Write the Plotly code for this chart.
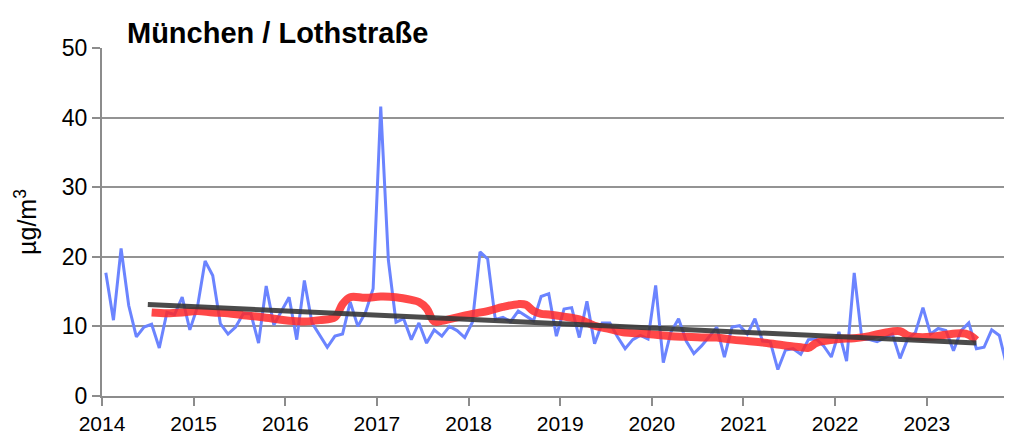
import plotly.graph_objects as go

# Monthly values Jan 2014 .. Nov 2023 (µg/m³)
monthly_values = [
    17.7, 10.9, 21.2, 13.0, 8.5, 9.9, 10.3, 6.9, 12.0, 11.7, 14.2, 9.5,
    12.8, 19.4, 17.3, 10.4, 8.9, 9.9, 11.8, 11.8, 7.6, 15.8, 10.2, 12.3,
    14.2, 8.1, 16.6, 10.5, 8.8, 7.0, 8.6, 8.9, 13.5, 10.0, 12.0, 15.4,
    41.6, 19.5, 10.6, 11.1, 8.1, 10.5, 7.6, 9.5, 8.6, 10.0, 9.4, 8.4,
    10.6, 20.7, 19.7, 11.0, 11.3, 10.7, 12.2, 11.5, 10.8, 14.3, 14.7, 8.6,
    12.5, 12.7, 8.4, 13.6, 7.5, 10.5, 10.5, 8.5, 6.8, 8.1, 8.7, 8.2,
    15.9, 4.8, 9.2, 11.1, 7.9, 6.1, 7.2, 8.5, 9.9, 5.6, 9.9, 10.1,
    8.9, 11.1, 7.9, 7.8, 3.8, 6.6, 6.8, 6.0, 8.1, 8.2, 7.2, 5.6,
    9.2, 5.0, 17.7, 8.2, 8.1, 7.8, 8.4, 8.9, 5.4, 8.2, 9.1, 12.7,
    8.9, 9.7, 9.4, 6.5, 9.4, 10.5, 6.8, 7.0, 9.5, 8.7, 4.2,
]
start_year = 2014

# Moving average at month indices
avg_months = [6, 8, 10, 12, 14, 16, 18, 20, 22, 24, 26, 28, 30, 31, 32, 34, 36, 38,
              40, 41, 42, 43, 44, 46, 48, 50, 52, 54, 55, 56, 57, 58, 60, 62, 64,
              66, 68, 70, 72, 74, 76, 78, 80, 82, 84, 86, 88, 90, 91, 92, 93, 94,
              96, 98, 100, 102, 104, 105, 106, 108, 110, 112, 113, 114]
avg_values = [12.0, 11.9, 12.0, 12.2, 12.0, 11.9, 11.6, 11.4, 11.1, 10.8, 10.7, 10.9,
              11.3, 13.2, 14.2, 14.1, 14.3, 14.2, 13.8, 13.5, 12.6, 10.7, 10.8, 11.3,
              11.8, 12.2, 12.8, 13.2, 13.1, 12.2, 11.8, 11.7, 11.4, 11.0, 10.1, 9.6,
              9.1, 9.0, 8.8, 8.6, 8.5, 8.4, 8.4, 8.1, 7.9, 7.7, 7.4, 7.1, 7.0, 6.9,
              7.6, 7.9, 8.2, 8.3, 8.6, 9.1, 9.3, 8.7, 8.5, 8.5, 8.8, 9.0, 8.8, 8.0]

# Linear trend end points
trend_months = [5.5, 114]
trend_values = [13.15, 7.6]

year_ticks = list(range(2014, 2024))
year_labels = [str(y) for y in year_ticks]


def to_year(m):
    return start_year + (m + 0.5) / 12.0


x_blue = [to_year(i) for i in range(len(monthly_values))]
x_avg = [to_year(m) for m in avg_months]
x_trend = [to_year(m) for m in trend_months]

fig = go.Figure()
fig.add_trace(go.Scatter(x=x_blue, y=monthly_values, mode="lines",
                         line=dict(color="#6b84ff", width=3), showlegend=False))
fig.add_trace(go.Scatter(x=x_avg, y=avg_values, mode="lines",
                         line=dict(color="rgba(255,40,40,0.85)", width=8, shape="spline"),
                         showlegend=False))
fig.add_trace(go.Scatter(x=x_trend, y=trend_values, mode="lines",
                         line=dict(color="rgba(55,55,55,0.9)", width=5),
                         showlegend=False))

# page body has an 8px default margin: compensate in the figure margins
fig.update_layout(
    width=1012, height=441,
    margin=dict(l=94, r=8, t=40, b=53, autoexpand=False),
    paper_bgcolor="white", plot_bgcolor="white",
    font=dict(family="Liberation Sans, Arial, sans-serif", size=20, color="black"),
    annotations=[dict(text="<b>München / Lothstraße</b>", xref="paper", yref="paper",
                      x=0.025, y=1.0, xanchor="left", yanchor="bottom", yshift=-3,
                      showarrow=False, font=dict(size=29, color="black"))],
)
fig.update_xaxes(range=[2014, 2023.93], tickvals=year_ticks, ticktext=year_labels,
                 showgrid=False, showline=True, linecolor="#8c8c8c", linewidth=2,
                 ticks="outside", ticklen=8, tickwidth=2, tickcolor="#8c8c8c",
                 zeroline=False, tickfont=dict(size=21))
fig.update_yaxes(range=[0, 50], tickvals=[0, 10, 20, 30, 40, 50],
                 showgrid=True, gridcolor="#939393", gridwidth=2,
                 showline=True, linecolor="#8c8c8c", linewidth=2,
                 ticks="outside", ticklen=8, tickwidth=2, tickcolor="#8c8c8c",
                 zeroline=False, tickfont=dict(size=23),
                 title=dict(text="µg/m<sup>3</sup>", font=dict(size=25), standoff=18))

fig.write_html("out.html")
